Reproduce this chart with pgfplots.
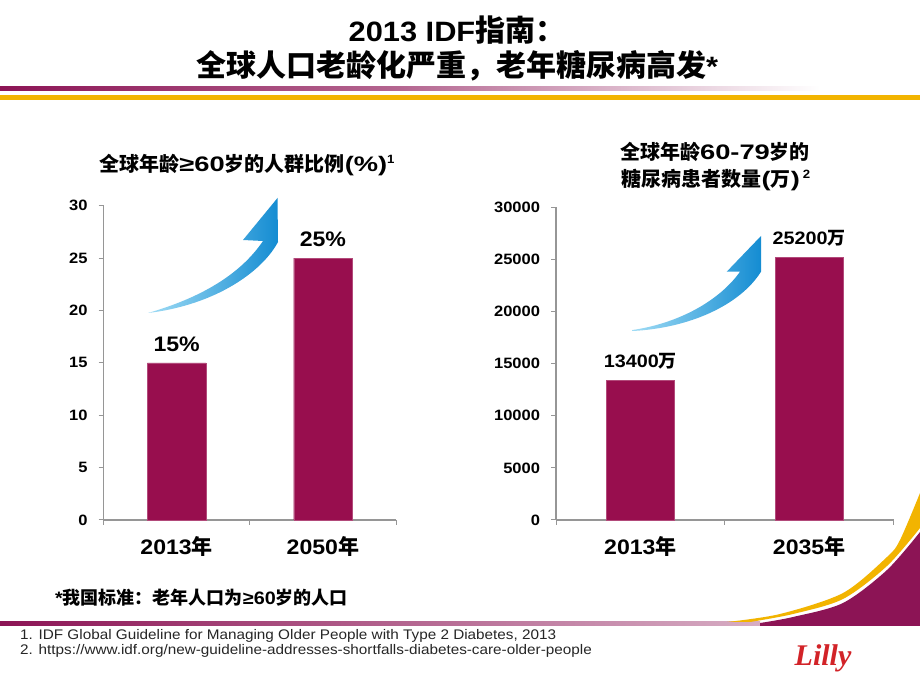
\documentclass[border=0pt]{standalone}
\usepackage{fontspec}
\usepackage{pgfplots}
\pgfplotsset{compat=1.18}
\setmainfont{Liberation Sans}[FakeStretch=1.1]
\newfontfamily\cjk{Noto Sans CJK SC}
\newfontfamily\wlat{Liberation Sans}[FakeStretch=1.3]
\newfontfamily\lillyfont{Liberation Serif}
\newcommand\fs[1]{\fontsize{#1}{#1}\selectfont}
\DeclareRobustCommand\wan{{\cjk 万}}
\DeclareRobustCommand\nian{{\cjk 年}}
\definecolor{barcol}{RGB}{152,14,78}
\definecolor{deco}{RGB}{140,20,85}
\definecolor{gold}{RGB}{242,180,0}
\definecolor{axgray}{RGB}{150,150,150}
\definecolor{blueA}{RGB}{160,220,245}
\definecolor{blueB}{RGB}{20,140,210}
\definecolor{lillyred}{RGB}{210,35,40}
\pgfplotsset{
  slide/.style={
    scale only axis, anchor=south west,
    xmin=-0.5, xmax=1.5, ymin=0,
    ybar,
    axis x line*=bottom, axis y line*=left,
    axis line style={draw=axgray, line width=1.3pt},
    tick style={draw=axgray, line width=1pt},
    major tick length=5pt,
    tick align=outside,
    xtick={-0.5,0.5,1.5}, xticklabels={},
    extra x ticks={0,1},
    extra x tick style={major tick length=0pt, xticklabel style={yshift=-13pt}},
    /pgf/number format/assume math mode=true,
    /pgf/number format/1000 sep={},
    scaled y ticks=false,
    yticklabel style={font=\bfseries\fs{15}, xshift=-7.5pt},
    xticklabel style={font=\bfseries\fs{21}},
    every node near coord/.append style={font=\bfseries\fs{21}, anchor=center, yshift=19pt},
    clip=false,
  }
}
\begin{document}
\begin{tikzpicture}[x=1pt,y=1pt]
\path[use as bounding box, fill=white] (0,0) rectangle (920,690);
% top decoration
\shade[left color=deco, right color=deco!65!white] (0,599) rectangle (400,603);
\shade[left color=deco!65!white, right color=white] (400,599) rectangle (820,603);
\fill[gold] (0,589.5) rectangle (920,594.5);
% bottom decoration
\shade[left color=deco, right color=deco!35!white] (0,64.5) rectangle (760,68.5);
\fill[deco] (760,64) -- (920,64) -- plot[smooth] coordinates {(920,158) (887,120) (843,87) (793,73) (760,67)} -- cycle;
\fill[gold] plot[smooth] coordinates {(727,68) (780,76) (843,97) (887,133) (900,150) (920,197)} -- plot[smooth] coordinates {(920,162) (887,124) (843,91) (793,76) (750,68)} -- cycle;
\node[text=lillyred, font=\lillyfont\bfseries\itshape\fs{30}] at (823,32) {Lilly};
% main title
\node[anchor=base, font=\bfseries] at (457,648) {\fs{28}2013 IDF{\cjk\fs{30}指南：}};
\node[anchor=base, font=\bfseries] at (457,613) {{\cjk\fs{30}全球人口老龄化严重，老年糖尿病高发}\fs{28}*};
% chart titles
\node[anchor=base, font=\bfseries] at (247,518) {{\cjk\fs{20}全球年龄}{\wlat\fs{21}≥60}{\cjk\fs{20}岁的人群比例}{\wlat\fs{21}(\%)}\raisebox{8pt}{\fs{12}1}};
\node[anchor=base, font=\bfseries] at (715,530) {{\cjk\fs{20}全球年龄}{\wlat\fs{21}60-79}{\cjk\fs{20}岁的}};
\node[anchor=base, font=\bfseries] at (716,503) {{\cjk\fs{20}糖尿病患者数量}{\wlat\fs{21}(}{\cjk\fs{20}万}{\wlat\fs{21})} \raisebox{8pt}{\fs{12}2}};
% arrows
\shade[left color=blueA, right color=blueB] (148,377) .. controls (200,392) and (240,415) .. (263,449) -- (243,450) -- (277.5,492) -- (278,448) .. controls (262,418) and (215,385) .. (148,377) -- cycle;
\shade[left color=blueA, right color=blueB] (632.7,360) .. controls (680,367) and (720,390) .. (740,418.3) -- (726.7,418.3) -- (761,454) -- (761,418.3) .. controls (740,385) and (690,362) .. (632.7,359) -- cycle;
% left chart
\begin{axis}[slide, at={(103.5pt,170pt)}, width=292.5pt, height=314.3pt,
  ymax=30, ytick={0,5,...,30},
  extra x tick labels={2013\nian, 2050\nian}]
\addplot[fill=barcol, draw=barcol!75!white, bar width=58.3pt,
  nodes near coords, point meta=explicit symbolic]
  coordinates {(0,15) [15\%] (1,25) [25\%]};
\end{axis}
% right chart
\begin{axis}[slide, at={(556pt,170pt)}, width=337.5pt, height=312.7pt,
  ymax=30000, ytick={0,5000,...,30000},
  extra x tick labels={2013\nian, 2035\nian},
  every node near coord/.append style={font=\bfseries\fs{18}}]
\addplot[fill=barcol, draw=barcol!75!white, bar width=67.6pt,
  nodes near coords, point meta=explicit symbolic]
  coordinates {(0,13400) [13400\wan] (1,25200) [25200\wan]};
\end{axis}
% footnotes
\node[anchor=base west, font=\bfseries, inner sep=0] at (55,85) {\fs{18}*{\cjk 我国标准：老年人口为}≥60{\cjk 岁的人口}};
\node[anchor=base west, inner sep=0, text=black!85] at (20,50) {\fs{13.9}1. IDF Global Guideline for Managing Older People with Type 2 Diabetes, 2013};
\node[anchor=base west, inner sep=0, text=black!85] at (20,35) {\fs{13.9}2. https://www.idf.org/new-guideline-addresses-shortfalls-diabetes-care-older-people};
\end{tikzpicture}
\end{document}
